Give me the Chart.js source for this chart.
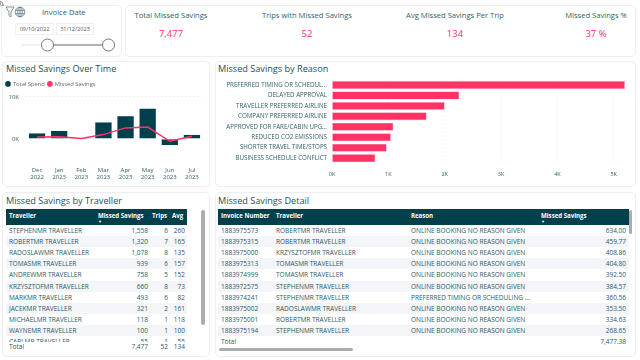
<!DOCTYPE html>
<html>
<head>
<meta charset="utf-8">
<script src="https://cdn.jsdelivr.net/npm/chart.js@4"></script>
<style>
    html, body { margin: 0; padding: 0; width: 640px; height: 360px; overflow: hidden; background: #fff; font-family: "Open Sans", sans-serif; color: #2b5a64; }
    .card { position: absolute; border: 1px solid #eceef0; border-radius: 5px; background: #fff; box-sizing: border-box; }
    .title { position: absolute; font-size: 9.15px; line-height: 12px; white-space: nowrap; color: #1f4f5a; }
    .kpi-title, .kpi-value { position: absolute; transform: translateX(-50%); white-space: nowrap; }
    .kpi-title { top: 10px; font-size: 7.6px; line-height: 11px; font-weight: 500; color: #2f5f69; }
    .kpi-value { top: 27px; font-size: 9.5px; line-height: 14px; color: #ff3366; }
    canvas { position: absolute; }
    .table { position: absolute; overflow: hidden; font-size: 6.5px; }
    .head { position: absolute; left: 0; top: 0; height: 16px; width: 100%; background: #00404d; color: #fff; font-weight: 700; font-size: 6.1px; }
    .row { position: absolute; left: 0; width: 100%; height: 11.1px; line-height: 11.1px; }
    .row.alt { background: #f3f5f8; }
    .cell { position: absolute; white-space: nowrap; }
    .right { text-align: right; }
    .total { position: absolute; font-size: 6.5px; line-height: 10px; }
    .bar { position: absolute; background: #a9adb0; border-radius: 2px; }
    .date { position: absolute; top: 23px; height: 12px; width: 35px; border: 1px solid #f0f0f0; box-sizing: border-box; font-size: 5.6px; line-height: 10px; text-align: center; color: #555; }
</style>
</head>
<body>
<div class="card" style="left:1px;top:5px;width:121px;height:52px"></div>
<div class="card" style="left:125px;top:5px;width:511px;height:52px"></div>
<div class="card" style="left:2px;top:61px;width:208px;height:126px"></div>
<div class="card" style="left:215px;top:61px;width:421px;height:126px"></div>
<div class="card" style="left:2px;top:192px;width:208px;height:165px"></div>
<div class="card" style="left:215px;top:192px;width:421px;height:165px"></div>

<svg style="position:absolute;left:0;top:0" width="30" height="20" fill="none" stroke="#4b6b72" stroke-width="0.7">
    <path d="M0 1 L3 3 L2 4 L4 5 L1 6 Z" stroke="#777"/>
    <path d="M6 7 H14 L11 12 V17 L9 15.5 V12 Z"/>
    <circle cx="20" cy="12" r="4.8"/><ellipse cx="20" cy="12" rx="2.2" ry="4.8"/>
    <path d="M15.4 10.4 H24.6 M15.4 13.6 H24.6 M20 7.2 V16.8"/>
</svg>
<div class="title" id="slicer-title" style="left:42px;top:6px;font-size:7.6px;font-weight:500;line-height:12px;color:#2f5f69"></div>
<div class="date" id="date-from" style="left:15px;width:39px"></div>
<div class="date" id="date-to" style="left:56px;width:38px"></div>
<svg style="position:absolute;left:0;top:36px" width="122" height="18" fill="#fff">
    <path d="M22 9 H47" stroke="#e3e3e3" stroke-width="1"/>
    <path d="M47 9 H108" stroke="#666" stroke-width="1.2"/>
    <circle cx="47.5" cy="9" r="6" stroke="#777" stroke-width="1"/>
    <circle cx="108.5" cy="9" r="6" stroke="#777" stroke-width="1"/>
</svg>

<div id="kpis"></div>

<div class="title" style="left:6px;top:63px">Missed Savings Over Time</div>
<canvas id="timeChart" width="206" height="106" style="left:3px;top:78px"></canvas>

<div class="title" style="left:218px;top:63px">Missed Savings by Reason</div>
<canvas id="reasonChart" width="418" height="114" style="left:216px;top:71px"></canvas>

<div class="title" style="left:6px;top:195px">Missed Savings by Traveller</div>
<div class="table" id="travellerTable" style="left:6px;top:209px;width:181px;height:133px"></div>
<div class="total" id="travellerTotal" style="left:0;top:0"></div>
<div class="bar" style="left:201px;top:210px;width:4px;height:115px"></div>

<div class="title" style="left:218px;top:195px">Missed Savings Detail</div>
<div class="table" id="detailTable" style="left:218px;top:209px;width:411px;height:128px"></div>
<div class="total" id="detailTotal" style="left:0;top:0"></div>
<div class="bar" style="left:629px;top:210px;width:3px;height:24px"></div>
<div class="bar" style="left:219px;top:348px;width:134px;height:3px"></div>

<script>
const slicerTitle = "Invoice Date";
const dateRange = ["09/10/2022", "31/12/2023"];

const kpiLabels = ["Total Missed Savings", "Trips with Missed Savings", "Avg Missed Savings Per Trip", "Missed Savings %"];
const kpiValues = ["7,477", "52", "134", "37 %"];
const kpiCentres = [171, 307, 455, 596];

const months = [["Dec", "2022"], ["Jan", "2023"], ["Feb", "2023"], ["Mar", "2023"], ["Apr", "2023"], ["May", "2023"], ["Jun", "2023"], ["Jul", "2023"]];
const totalSpend = [1400, 2000, 200, 4000, 5500, 7300, -1600, 1000];
const missedSavings = [400, 500, 100, 1000, 2600, 2800, -600, 600];
const timeTicks = [0, 10000];

const reasons = ["PREFERRED TIMING OR SCHEDUL...", "DELAYED APPROVAL", "TRAVELLER PREFERRED AIRLINE", "COMPANY PREFERRED AIRLINE", "APPROVED FOR FARE/CABIN UPG...", "REDUCED CO2 EMISSIONS", "SHORTER TRAVEL TIME/STOPS", "BUSINESS SCHEDULE CONFLICT"];
const reasonValues = [5200, 2260, 2000, 1680, 1090, 1045, 970, 770];
const reasonTicks = [0, 1000, 2000, 3000, 4000, 5000];

const travellerNames = ["STEPHENMR TRAVELLER", "ROBERTMR TRAVELLER", "RADOSLAWMR TRAVELLER", "TOMASMR TRAVELLER", "ANDREWMR TRAVELLER", "KRZYSZTOFMR TRAVELLER", "MARKMR TRAVELLER", "JACEKMR TRAVELLER", "MICHAELMR TRAVELLER", "WAYNEMR TRAVELLER", "CARLMR TRAVELLER"];
const travellerSavings = ["1,558", "1,320", "1,078", "939", "758", "660", "493", "321", "118", "100", "55"];
const travellerTrips = ["6", "7", "8", "6", "5", "8", "6", "2", "1", "1", "1"];
const travellerAvg = ["260", "165", "135", "157", "152", "73", "82", "161", "118", "100", "55"];
const travellerTotals = ["7,477", "52", "134"];

const invoiceNumbers = ["1883975573", "1883975315", "1883975000", "1883975313", "1883974999", "1883972575", "1883974241", "1883975002", "1883975001", "1883975194"];
const invoiceTravellers = ["ROBERTMR TRAVELLER", "ROBERTMR TRAVELLER", "KRZYSZTOFMR TRAVELLER", "TOMASMR TRAVELLER", "TOMASMR TRAVELLER", "STEPHENMR TRAVELLER", "STEPHENMR TRAVELLER", "RADOSLAWMR TRAVELLER", "ROBERTMR TRAVELLER", "STEPHENMR TRAVELLER"];
const invoiceReasons = ["ONLINE BOOKING NO REASON GIVEN", "ONLINE BOOKING NO REASON GIVEN", "ONLINE BOOKING NO REASON GIVEN", "ONLINE BOOKING NO REASON GIVEN", "ONLINE BOOKING NO REASON GIVEN", "ONLINE BOOKING NO REASON GIVEN", "PREFERRED TIMING OR SCHEDULING ...", "ONLINE BOOKING NO REASON GIVEN", "ONLINE BOOKING NO REASON GIVEN", "ONLINE BOOKING NO REASON GIVEN"];
const invoiceSavings = ["634.00", "459.77", "408.86", "404.80", "392.50", "384.57", "360.56", "353.50", "334.63", "268.65"];

const DARK = "#00404d";
const PINK = "#ff3366";
const TEXT = "#2f5f69";
const FONT = "'Open Sans', sans-serif";

document.getElementById("slicer-title").textContent = slicerTitle;
document.getElementById("date-from").textContent = dateRange[0];
document.getElementById("date-to").textContent = dateRange[1];

kpiLabels.forEach((label, i) => {
    document.getElementById("kpis").innerHTML +=
        `<div class="kpi-title" style="left:${kpiCentres[i]}px">${label}</div>` +
        `<div class="kpi-value" style="left:${kpiCentres[i]}px">${kpiValues[i]}</div>`;
});

function cell(text, left, width, alignRight) {
    if (alignRight) {
        return `<div class="cell right" style="left:${left}px;width:${width}px">${text}</div>`;
    }
    return `<div class="cell" style="left:${left}px">${text}</div>`;
}

function buildHeader(cols) {
    let html = '<div class="head">';
    cols.forEach(c => {
        html += `<div class="cell" style="left:${c.x}px;top:2px;line-height:9px">${c.label}</div>`;
        if (c.sorted) {
            html += `<div class="cell" style="left:${c.x}px;top:10px;line-height:5px;font-size:4px">▼</div>`;
        }
    });
    return html + "</div>";
}

function updateTravellerTable() {
    let html = buildHeader([
        { x: 3, label: "Traveller" },
        { x: 92, label: "Missed Savings", sorted: true },
        { x: 146, label: "Trips" },
        { x: 166, label: "Avg" },
    ]);
    travellerNames.forEach((name, i) => {
        html += `<div class="row ${i % 2 ? "alt" : ""}" style="top:${16 + i * 11.1}px">` +
            cell(name, 3) +
            cell(travellerSavings[i], 90, 52, true) +
            cell(travellerTrips[i], 145, 17, true) +
            cell(travellerAvg[i], 163, 16, true) +
            "</div>";
    });
    document.getElementById("travellerTable").innerHTML = html;
    const total = document.getElementById("travellerTotal");
    total.style.cssText = "left:6px;top:342px;width:181px;height:10px";
    total.innerHTML = cell("Total", 3) + cell(travellerTotals[0], 90, 52, true) +
        cell(travellerTotals[1], 145, 17, true) + cell(travellerTotals[2], 163, 16, true);
}

function updateDetailTable() {
    let html = buildHeader([
        { x: 3, label: "Invoice Number" },
        { x: 58, label: "Traveller" },
        { x: 193, label: "Reason" },
        { x: 323, label: "Missed Savings", sorted: true },
    ]);
    invoiceNumbers.forEach((number, i) => {
        html += `<div class="row ${i % 2 ? "alt" : ""}" style="top:${16 + i * 11.1}px">` +
            cell(number, 3) +
            cell(invoiceTravellers[i], 58) +
            cell(invoiceReasons[i], 193) +
            cell(invoiceSavings[i], 330, 78, true) +
            "</div>";
    });
    document.getElementById("detailTable").innerHTML = html;
    const total = document.getElementById("detailTotal");
    total.style.cssText = "left:218px;top:337px;width:411px;height:10px";
    total.innerHTML = cell("Total", 3) + cell("7,477.38", 330, 78, true);
}

function configureTimeChart() {
    new Chart(document.getElementById("timeChart"), {
        type: "bar",
        data: {
            labels: months,
            datasets: [
                { type: "line", label: "Missed Savings", data: missedSavings, borderColor: PINK, backgroundColor: PINK, borderWidth: 1.5, pointRadius: 0, tension: 0, pointStyle: "circle", order: 0 },
                { label: "Total Spend", data: totalSpend, backgroundColor: DARK, borderColor: "#d5dfe2", borderWidth: 0.5, barPercentage: 0.78, categoryPercentage: 1, pointStyle: "circle", order: 1 },
            ],
        },
        options: {
            responsive: false,
            animation: false,
            layout: { padding: { left: 0, right: 6, top: 0, bottom: 0 } },
            plugins: {
                tooltip: { enabled: false },
                legend: {
                    position: "top",
                    align: "start",
                    reverse: true,
                    labels: {
                        usePointStyle: true,
                        boxWidth: 4,
                        boxHeight: 4,
                        padding: 3,
                        color: "#666",
                        font: { family: FONT, size: 5.8 },
                        generateLabels: (chart) => Chart.defaults.plugins.legend.labels.generateLabels(chart).map(l => ({ ...l, lineWidth: 0 })),
                    },
                },
            },
            scales: {
                x: {
                    grid: { display: false },
                    border: { display: false },
                    ticks: { color: TEXT, font: { family: FONT, size: 6 }, maxRotation: 0, autoSkip: false, padding: 3 },
                },
                y: {
                    min: -4000,
                    max: 10000,
                    afterFit: (axis) => { axis.width = 23; },
                    afterBuildTicks: (axis) => { axis.ticks = timeTicks.map(v => ({ value: v })); },
                    grid: { color: "#e4e4e4", lineWidth: 0.7, drawTicks: false },
                    border: { display: false, dash: [1, 3] },
                    ticks: { color: TEXT, padding: 7, font: { family: FONT, size: 6 }, callback: (v) => (v / 1000) + "K" },
                },
            },
        },
    });
}

function configureReasonChart() {
    new Chart(document.getElementById("reasonChart"), {
        type: "bar",
        data: {
            labels: reasons,
            datasets: [{ data: reasonValues, backgroundColor: PINK, borderColor: "#ffb3c6", borderWidth: 0.6, barPercentage: 0.78, categoryPercentage: 1 }],
        },
        options: {
            indexAxis: "y",
            responsive: false,
            animation: false,
            layout: { padding: { left: 0, right: 9, top: 3, bottom: 0 } },
            plugins: { legend: { display: false }, tooltip: { enabled: false } },
            scales: {
                x: {
                    min: 0,
                    max: 5200,
                    afterBuildTicks: (axis) => { axis.ticks = reasonTicks.map(v => ({ value: v })); },
                    grid: { color: "#e4e4e4", lineWidth: 0.7, drawTicks: false },
                    border: { display: false, dash: [1, 3] },
                    ticks: { color: TEXT, padding: 7.5, font: { family: FONT, size: 5.5 }, callback: (v) => (v / 1000) + "K" },
                },
                y: {
                    afterFit: (axis) => { axis.width = 116; },
                    grid: { display: false, drawTicks: false },
                    border: { display: false },
                    ticks: { color: TEXT, padding: 5, autoSkip: false, font: { family: FONT, size: 6.2 } },
                },
            },
        },
    });
}

updateTravellerTable();
updateDetailTable();
configureTimeChart();
configureReasonChart();
</script>
</body>
</html>
